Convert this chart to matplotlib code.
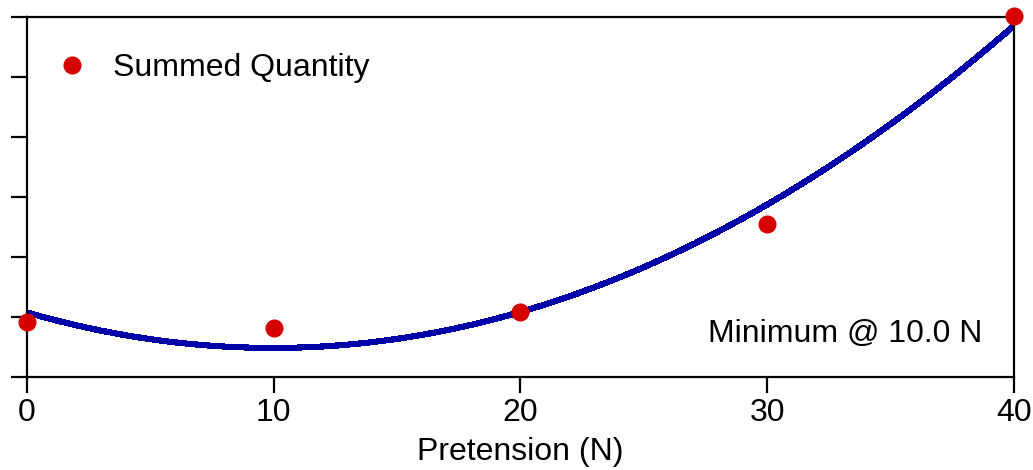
import matplotlib.pyplot as plt
import numpy as np

# Measured summed quantity at each pretension setting
pretension = [0, 10, 20, 30, 40]
summed = [0.907, 0.807, 1.073, 2.55, 6.01]
min_label = "Minimum @ 10.0 N"

plt.rcParams['font.family'] = ['Liberation Sans', 'DejaVu Sans']

# Quadratic fit through the measurements
coef = np.polyfit(pretension, summed, 2)
xfit = np.linspace(0, 40, 400)
yfit = np.polyval(coef, xfit)

fig = plt.figure(figsize=(10.33, 4.70), dpi=100)
ax = fig.add_axes([0.0261, 0.1985, 0.9555, 0.766])

ax.plot(xfit, yfit, color='#0000a8', lw=3.7, antialiased=False,
        solid_capstyle='butt', zorder=2)
ax.plot(pretension, summed, 'o', color='#d70000', ms=12, clip_on=False,
        zorder=3, label='Summed Quantity')

ax.set_xlim(0, 40)
ax.set_ylim(0, 6)
ax.set_xticks([0, 10, 20, 30, 40])
ax.set_yticks(range(7))
ax.set_yticklabels([])
ax.tick_params(direction='out', length=11.5, width=1.6, labelsize=23, pad=4)
for s in ax.spines.values():
    s.set_linewidth(1.6)

ax.set_xlabel('Pretension (N)', fontsize=23, labelpad=6)

ax.legend(loc='upper left', bbox_to_anchor=(0, 0.971), frameon=False,
          fontsize=23, handletextpad=0.7, borderaxespad=0.4,
          handlelength=1.2, numpoints=1)
ax.text(0.968, 0.12, min_label, transform=ax.transAxes, ha='right',
        va='center', fontsize=23)

fig.savefig('out.png', dpi=100)
